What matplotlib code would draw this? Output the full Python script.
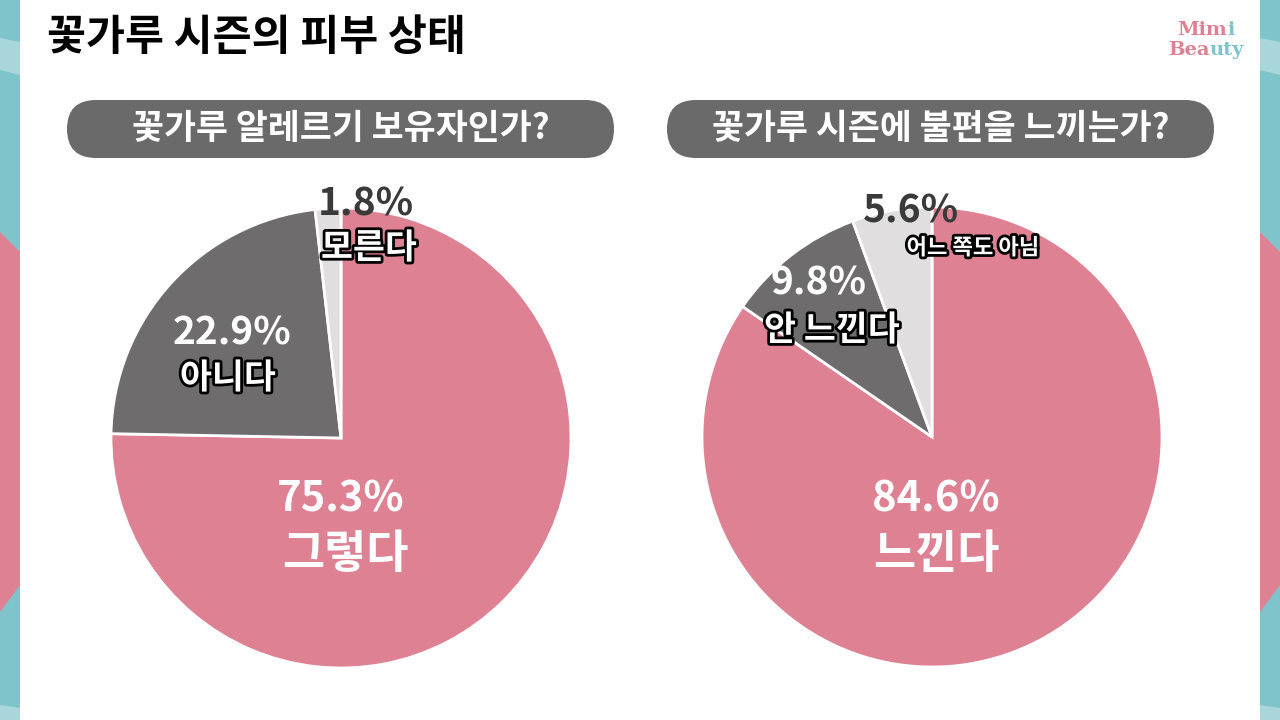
import matplotlib
matplotlib.use("Agg")
import matplotlib.pyplot as plt
import matplotlib.patheffects as pe
from matplotlib.patches import FancyBboxPatch, Polygon

plt.rcParams['font.family'] = ['Noto Sans CJK KR', 'DejaVu Sans']

title = "꽃가루 시즌의 피부 상태"

q1 = "꽃가루 알레르기 보유자인가?"
q1_labels = ["그렇다", "아니다", "모른다"]
q1_values = [75.3, 22.9, 1.8]

q2 = "꽃가루 시즌에 불편을 느끼는가?"
q2_labels = ["느낀다", "안 느낀다", "어느 쪽도 아님"]
q2_values = [84.6, 9.8, 5.6]

pie_colors = ["#DE8193", "#6E6C6D", "#E0DEDF"]
pct_colors = ["white", "white", "#3A3A3A"]

PINK = "#DE8193"
TEAL = "#7FC3CB"
H = 720

fig = plt.figure(figsize=(12.8, 7.2), dpi=100)
ax = fig.add_axes([0, 0, 1, 1])


def Y(py):
    return H - py


# side stripes
for x0, x1 in [(0, 20), (1260, 1280)]:
    ax.add_patch(Polygon([(x0, Y(0)), (x1, Y(0)), (x1, Y(720)), (x0, Y(720))],
                         closed=True, color=TEAL, lw=0))
    ax.add_patch(Polygon([(x0, Y(38)), (x1, Y(42)), (x1, Y(75)), (x0, Y(70))],
                         closed=True, color="#A8D6DB", lw=0))
    ax.add_patch(Polygon([(x0, Y(232)), (x1, Y(252)), (x1, Y(585)), (x0, Y(612))],
                         closed=True, color=PINK, lw=0))
    ax.add_patch(Polygon([(x0, Y(705)), (x1, Y(708)), (x1, Y(720)), (x0, Y(720))],
                         closed=True, color="#A8D6DB", lw=0))

ax.text(47, Y(38), title, fontsize=30.5, fontweight='bold', color='black',
        ha='left', va='center')

# logo
logo = dict(family='DejaVu Serif', fontweight='bold', fontsize=14, va='center')
ax.text(1227, Y(30), "Mim", color=PINK, ha='right', **logo)
ax.text(1227, Y(30), "i", color=TEAL, ha='left', **logo)
ax.text(1210, Y(50), "Bea", color=PINK, ha='right', **logo)
ax.text(1210, Y(50), "uty", color=TEAL, ha='left', **logo)

stroke = [pe.withStroke(linewidth=4, foreground='black')]

charts = [
    dict(q=q1, labels=q1_labels, values=q1_values, cx=341, cy=438, bx=67,
         pct_pos=[(341, 499), (232, 333), (366, 204)],
         lab_pos=[(345, 555), (228, 378), (369, 248)],
         pct_size=[30, 28, 28], lab_size=[33, 25, 25],
         lab_stroke=[False, True, True]),
    dict(q=q2, labels=q2_labels, values=q2_values, cx=932, cy=437, bx=667,
         pct_pos=[(936, 499), (818, 283), (911, 211)],
         lab_pos=[(936, 555), (832, 330), (973, 248)],
         pct_size=[30, 28, 28], lab_size=[33, 25, 16],
         lab_stroke=[False, True, True]),
]

for c in charts:
    # banner
    ax.add_patch(FancyBboxPatch((c['bx'], Y(158)), 547, 58,
                                boxstyle="round,pad=0,rounding_size=29",
                                fc="#6B6A6A", ec='none'))
    ax.text(c['bx'] + 547 / 2, Y(129), c['q'], fontsize=25, fontweight='bold',
            color='white', ha='center', va='center')

    ax.pie(c['values'], colors=pie_colors, startangle=90, counterclock=False,
           center=(c['cx'], Y(c['cy'])), radius=230, frame=True,
           wedgeprops=dict(edgecolor='white', linewidth=2))

    for i, v in enumerate(c['values']):
        px, py = c['pct_pos'][i]
        ax.text(px, Y(py), f"{v}%", fontsize=c['pct_size'][i], fontweight='bold',
                color=pct_colors[i], ha='center', va='center')
        lx, ly = c['lab_pos'][i]
        t = ax.text(lx, Y(ly), c['labels'][i], fontsize=c['lab_size'][i],
                    fontweight='bold', color='white', ha='center', va='center')
        if c['lab_stroke'][i]:
            t.set_path_effects(stroke)

ax.set_xlim(0, 1280)
ax.set_ylim(0, 720)
ax.set_aspect('equal')
ax.axis('off')

fig.savefig("out.png", dpi=100, facecolor='white')
